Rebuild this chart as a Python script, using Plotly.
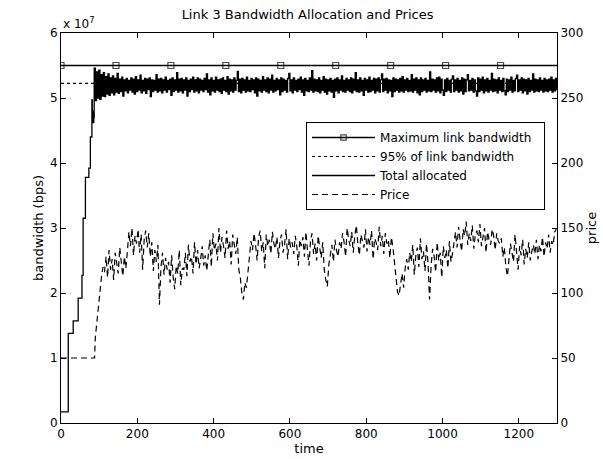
import plotly.graph_objects as go

# ---------------- data ----------------
# bandwidth values in units of 1e7 bps
link_capacity = 5.5
capacity_share = 0.95
marker_times = [0, 144, 288, 432, 576, 720, 864, 1008, 1152]
x_end = 1300

ramp_time = [0, 19, 32, 45, 55, 58, 64, 73, 77, 81, 82, 83, 84, 86]
ramp_alloc = [0.17, 1.38, 1.57, 1.92, 2.27, 3.15, 3.78, 3.92, 4.40, 4.97, 4.65, 4.80, 4.62, 4.70]

steady_start, steady_step = 87, 3
steady_alloc = [
    5.46, 4.96, 5.40, 5.00, 5.43, 4.98, 5.36, 5.03, 5.39, 5.02, 5.33, 5.06, 5.37, 5.04, 5.31,
    5.08, 5.34, 5.05, 5.30, 5.09, 5.38, 5.07, 5.29, 5.10, 5.32, 5.03, 5.28, 5.11, 5.30, 5.08,
    5.27, 5.12, 5.31, 5.09, 5.29, 5.06, 5.33, 5.10, 5.28, 5.12, 5.35, 5.08, 5.27, 5.11, 5.30,
    5.07, 5.29, 5.13, 5.31, 5.02, 5.28, 5.10, 5.27, 5.12, 5.36, 5.09, 5.29, 5.11, 5.30, 5.08,
    5.28, 5.12, 5.32, 5.09, 5.27, 5.13, 5.29, 5.04, 5.31, 5.10, 5.28, 5.12, 5.39, 5.09, 5.29,
    5.11, 5.30, 5.08, 5.28, 5.12, 5.31, 5.03, 5.27, 5.10, 5.29, 5.13, 5.32, 5.09, 5.28, 5.11,
    5.31, 5.08, 5.29, 5.12, 5.27, 5.10, 5.30, 5.13, 5.37, 5.09, 5.28, 5.05, 5.31, 5.11, 5.27,
    5.09, 5.32, 5.12, 5.28, 5.10, 5.29, 5.07, 5.31, 5.12, 5.27, 5.10, 5.33, 5.06, 5.29, 5.11,
    5.28, 5.09, 5.31, 5.12, 5.27, 5.41, 5.10, 5.29, 5.08, 5.30, 5.12, 5.28, 5.09, 5.32, 5.11,
    5.27, 5.10, 5.30, 5.13, 5.28, 5.08, 5.31, 5.03, 5.29, 5.11, 5.27, 5.09, 5.33, 5.12, 5.28,
    5.10, 5.31, 5.08, 5.29, 5.12, 5.35, 5.09, 5.27, 5.11, 5.30, 5.13, 5.28, 5.05, 5.31, 5.10,
    5.29, 5.12, 5.27, 5.09, 5.30, 5.38, 5.11, 5.28, 5.08, 5.31, 5.12, 5.27, 5.10, 5.29, 5.13,
    5.32, 5.09, 5.28, 5.04, 5.30, 5.11, 5.27, 5.10, 5.31, 5.12, 5.42, 5.09, 5.29, 5.11, 5.28,
    5.10, 5.31, 5.08, 5.27, 5.12, 5.33, 5.09, 5.29, 5.06, 5.28, 5.11, 5.30, 5.09, 5.27, 5.01,
    5.29, 5.11, 5.31, 5.08, 5.28, 5.12, 5.34, 5.10, 5.27, 5.09, 5.30, 5.12, 5.28, 5.10, 5.31,
    5.08, 5.29, 5.12, 5.39, 5.10, 5.28, 5.09, 5.31, 5.11, 5.27, 5.04, 5.30, 5.12, 5.28, 5.09,
    5.32, 5.10, 5.27, 5.12, 5.30, 5.08, 5.29, 5.11, 5.31, 5.09, 5.28, 5.37, 5.10, 5.29, 5.12,
    5.30, 5.08, 5.28, 5.11, 5.27, 5.02, 5.31, 5.10, 5.29, 5.12, 5.28, 5.09, 5.30, 5.11, 5.33,
    5.09, 5.28, 5.12, 5.30, 5.10, 5.27, 5.11, 5.36, 5.09, 5.29, 5.12, 5.31, 5.08, 5.28, 5.05,
    5.31, 5.10, 5.28, 5.12, 5.30, 5.09, 5.27, 5.11, 5.40, 5.10, 5.29, 5.12, 5.28, 5.09, 5.31,
    5.11, 5.32, 5.08, 5.29, 5.12, 5.04, 5.28, 5.10, 5.30, 5.12, 5.27, 5.09, 5.29, 5.34, 5.10,
    5.28, 5.12, 5.30, 5.09, 5.27, 5.11, 5.31, 5.06, 5.29, 5.10, 5.28, 5.36, 5.11, 5.27, 5.12,
    5.30, 5.09, 5.28, 5.11, 5.03, 5.31, 5.10, 5.29, 5.12, 5.32, 5.08, 5.28, 5.11, 5.30, 5.09,
    5.27, 5.12, 5.38, 5.10, 5.29, 5.11, 5.28, 5.08, 5.31, 5.12, 5.27, 5.10, 5.30, 5.11, 5.05,
    5.29, 5.10, 5.28, 5.12, 5.32, 5.09, 5.27, 5.11, 5.30, 5.35, 5.10, 5.28, 5.12, 5.31, 5.08,
    5.29, 5.11, 5.28, 5.06, 5.30, 5.10, 5.27, 5.12, 5.37, 5.09, 5.29, 5.11, 5.28, 5.10, 5.31,
    5.12, 5.27, 5.09, 5.30, 5.11, 5.28, 5.10, 5.29, 5.12, 5.32, 5.09, 5.28, 5.11, 5.30, 5.12,
]

price_init_time = [0, 88]
price_init = [50, 50]
price_start, price_step = 90, 4
price = [
    66, 78, 89, 100, 112, 120, 116, 128,
    112, 133, 118, 126, 110, 131, 121, 115, 135, 124, 113, 128, 119,
    132, 147, 136, 150, 129, 144, 138, 149, 131, 145, 118, 141, 148, 135,
    146, 128, 139, 117, 133, 124, 137, 91, 120, 131, 114, 127, 118,
    124, 108, 129, 112, 103, 121, 115, 133, 106, 119,
    118, 131, 113, 137, 124, 128, 115, 139, 122, 133, 119, 126, 136, 121, 129, 117,
    128, 141, 120, 146, 133, 138, 125, 150, 131, 143, 136, 127, 148, 134, 140, 122, 145, 137, 130, 143, 118,
    112, 100, 95, 108, 104, 118,
    128, 140, 133, 146, 137, 125, 143, 148, 132, 139, 119, 145, 136, 141, 130, 147, 138, 134, 143, 127,
    140, 145, 131, 137, 149, 126, 142, 135, 139, 130, 144, 136, 121, 141,
    136, 143, 128, 147, 133, 121, 140, 146, 130, 138, 125, 144, 135, 127, 139, 118, 110, 105, 122, 131,
    137, 124, 141, 133, 128, 139,
    134, 146, 139, 128, 150, 141, 136, 147, 131, 144, 152, 138, 129, 145, 140, 135, 149, 132, 143, 137,
    148, 126, 142, 139, 133, 151, 136, 144, 130, 146, 138, 141, 127, 143, 135,
    122, 110, 101, 98, 107, 115, 104, 119, 126,
    118, 131, 124, 137, 114, 129, 135, 120, 142, 126, 132, 117, 138, 123, 95, 121, 134, 128, 116, 139,
    125, 131, 112, 136, 127, 133, 119, 140, 124, 130,
    138, 147, 135, 151, 141, 132, 149, 144, 155, 137, 146, 140, 152, 134, 145, 148, 139, 153, 136, 143,
    150, 131, 147, 141, 137, 149, 144, 133, 146, 140, 138,
    142, 128, 135, 120, 113, 126, 138, 131, 124, 145, 133, 118, 136, 129, 141, 122, 134, 127, 139, 125,
    132, 137,
    130, 141, 126, 137, 132, 143, 128, 139, 134, 145, 131, 140, 137, 147, 149,
]

series_names = ['Maximum link bandwidth\u00a0\u00a0', '95% of link bandwidth',
                'Total allocated', 'Price']

# ---------------- build series ----------------
alloc_time = ramp_time + [steady_start + steady_step * i for i in range(len(steady_alloc))]
alloc = ramp_alloc + steady_alloc
price_time = price_init_time + [price_start + price_step * i for i in range(len(price))]
price_all = price_init + price
cap_x = marker_times + [x_end]
cap_y = [link_capacity] * len(cap_x)
sizes = [6] * len(marker_times) + [0]

fig = go.Figure()
fig.add_trace(go.Scatter(
    x=cap_x, y=cap_y, mode='lines+markers', name=series_names[0],
    line=dict(color='black', width=1.3),
    marker=dict(symbol='square-open', size=sizes, color='black', line=dict(width=1.2)),
))
fig.add_trace(go.Scatter(
    x=[0, x_end], y=[link_capacity * capacity_share] * 2, mode='lines',
    name=series_names[1], line=dict(color='black', width=1.2, dash='dot'),
))
fig.add_trace(go.Scatter(
    x=alloc_time, y=alloc, mode='lines', name=series_names[2],
    line=dict(color='black', width=1.3, shape='hv'),
))
fig.add_trace(go.Scatter(
    x=price_time, y=price_all, mode='lines', name=series_names[3], yaxis='y2',
    line=dict(color='black', width=1.2, dash='6px,4px'),
))

axis_common = dict(showline=True, linecolor='black', linewidth=1, ticks='inside',
                   ticklen=5, tickcolor='black', showgrid=False, zeroline=False,
                   automargin=False, tickfont=dict(size=12))

fig.update_layout(
    width=603, height=459,
    margin=dict(l=61, r=46, t=33, b=36),
    paper_bgcolor='white', plot_bgcolor='white',
    font=dict(family='DejaVu Sans, Liberation Sans, sans-serif', size=12, color='black'),
    title=dict(text='Link 3 Bandwidth Allocation and Prices', x=0.51, xanchor='center',
               yref='container', y=1 - 14 / 459, yanchor='middle', font=dict(size=13)),
    xaxis=dict(range=[0, x_end], dtick=200, mirror='ticks',
               title=dict(text='time', standoff=0, font=dict(size=13)), **axis_common),
    yaxis=dict(range=[0, 6], dtick=1,
               title=dict(text='bandwidth (bps)', standoff=3, font=dict(size=13)),
               **axis_common),
    yaxis2=dict(range=[0, 300], dtick=50, overlaying='y', side='right',
                title=dict(text='price', standoff=4, font=dict(size=13)), **axis_common),
    legend=dict(x=0.494, y=0.7718, xanchor='left', yanchor='top', bordercolor='black',
                borderwidth=1, bgcolor='white', font=dict(size=12), itemwidth=63,
                tracegroupgap=0),
    showlegend=True,
    annotations=[dict(text='x 10<sup>7</sup>', xref='paper', yref='paper', x=0.0, y=1.0,
                      xanchor='left', yanchor='bottom', showarrow=False, font=dict(size=12))],
)

fig.write_html('out.html')
